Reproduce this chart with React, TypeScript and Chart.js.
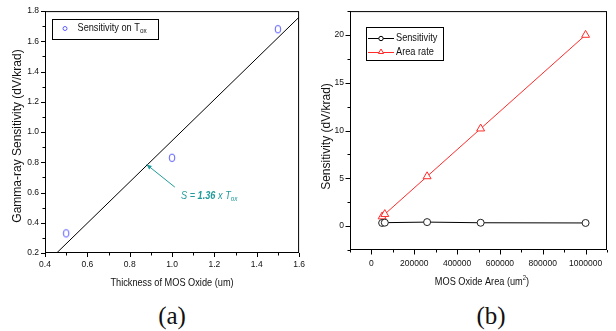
import React, { useEffect, useRef } from "react";
import { Chart, registerables } from "chart.js";

Chart.register(...registerables);

// ---------------- Data: chart (a) ----------------
const A_THICKNESS = [0.5, 1.0, 1.5];
const A_SENSITIVITY = [0.33, 0.83, 1.68];
const A_FIT_X = [0.455, 1.6];
const A_FIT_Y = [0.2, 1.76];
const A_X_MAJOR = [0.4, 0.6, 0.8, 1.0, 1.2, 1.4, 1.6];
const A_X_MINOR = [0.5, 0.7, 0.9, 1.1, 1.3, 1.5];
const A_Y_MAJOR = [0.2, 0.4, 0.6, 0.8, 1.0, 1.2, 1.4, 1.6, 1.8];
const A_Y_MINOR = [0.3, 0.5, 0.7, 0.9, 1.1, 1.3, 1.5, 1.7];

// ---------------- Data: chart (b) ----------------
const B_AREA = [50000, 62500, 260000, 510000, 1000000];
const B_SENSITIVITY = [0.33, 0.36, 0.42, 0.35, 0.33];
const B_AREA_RATE = [1.0, 1.25, 5.2, 10.2, 20.0];
const B_X_MAJOR = [0, 200000, 400000, 600000, 800000, 1000000];
const B_X_MINOR = [-100000, 100000, 300000, 500000, 700000, 900000, 1100000];
const B_Y_MAJOR = [0, 5, 10, 15, 20];
const B_Y_MINOR = [-2.5, 2.5, 7.5, 12.5, 17.5, 22.5];

const SANS = "'Liberation Sans', Arial, sans-serif";
const BLUE = "#5c5cff";
const RED = "#ff2b2b";
const TEAL = "#219a9a";
const COND = 0.8;

type Part = { t: string; font: string; dy?: number };

function drawRich(ctx: CanvasRenderingContext2D, parts: Part[], x: number, y: number, align: "left" | "center", k = COND) {
  let w = 0;
  for (const p of parts) {
    ctx.font = p.font;
    w += ctx.measureText(p.t).width;
  }
  const start = align === "center" ? x - (w * k) / 2 : x;
  ctx.save();
  ctx.translate(start, y);
  ctx.scale(k, 1);
  ctx.textAlign = "left";
  ctx.textBaseline = "middle";
  let cx = 0;
  for (const p of parts) {
    ctx.font = p.font;
    ctx.fillText(p.t, cx, p.dy || 0);
    cx += ctx.measureText(p.t).width;
  }
  ctx.restore();
}

function isIn(list: number[], v: number) {
  return list.some((m) => Math.abs(m - v) < 1e-9);
}

function drawFrameAndTicks(chart: any, xMajor: number[], yMajor: number[], majorLen: number, minorLen: number) {
  const ctx: CanvasRenderingContext2D = chart.ctx;
  const { left, right, top, bottom } = chart.chartArea;
  const xs = chart.scales.x;
  const ys = chart.scales.y;
  ctx.save();
  ctx.strokeStyle = "#000";
  ctx.lineWidth = 1;
  ctx.strokeRect(left + 0.5, top + 0.5, right - left - 1, bottom - top - 1);
  ctx.beginPath();
  for (const t of xs.ticks) {
    const px = Math.round(xs.getPixelForValue(t.value)) + 0.5;
    const len = isIn(xMajor, t.value) ? majorLen : minorLen;
    ctx.moveTo(px, bottom);
    ctx.lineTo(px, bottom + len);
  }
  for (const t of ys.ticks) {
    const py = Math.round(ys.getPixelForValue(t.value)) + 0.5;
    const len = isIn(yMajor, t.value) ? majorLen : minorLen;
    ctx.moveTo(left - len, py);
    ctx.lineTo(left + 1, py);
  }
  ctx.stroke();
  ctx.restore();
}

function rotatedTitle(ctx: CanvasRenderingContext2D, text: string, font: string, cx: number, cy: number) {
  ctx.save();
  ctx.translate(cx, cy);
  ctx.rotate(-Math.PI / 2);
  ctx.font = font;
  ctx.fillStyle = "#111";
  ctx.textAlign = "center";
  ctx.textBaseline = "middle";
  ctx.fillText(text, 0, 0);
  ctx.restore();
}

function makeEllipseMarker(color: string, rx: number, ry: number) {
  const c = document.createElement("canvas");
  c.width = Math.round(rx * 2 + 4);
  c.height = Math.round(ry * 2 + 4);
  const g = c.getContext("2d")!;
  g.strokeStyle = color;
  g.lineWidth = 1;
  g.beginPath();
  g.ellipse(c.width / 2, c.height / 2, rx, ry, 0, 0, Math.PI * 2);
  g.stroke();
  return c;
}

function tickScale(min: number, max: number, major: number[], minor: number[], fmt: (v: number) => string, padding: number, fit: (s: any) => void) {
  return {
    type: "linear" as const,
    min,
    max,
    afterBuildTicks: (s: any) => {
      s.ticks = [...major, ...minor].sort((a, b) => a - b).map((v) => ({ value: v }));
    },
    afterFit: fit,
    grid: { display: false, drawTicks: false },
    border: { display: false },
    title: { display: false },
    ticks: {
      autoSkip: false,
      maxRotation: 0,
      minRotation: 0,
      padding,
      color: "#111",
      font: { family: SANS, size: 8.5 },
      callback: (v: any) => (isIn(major, Number(v)) ? fmt(Number(v)) : ""),
    },
  };
}

function ChartA() {
  const ref = useRef<HTMLCanvasElement>(null);
  useEffect(() => {
    const marker = makeEllipseMarker(BLUE, 2.8, 3.8);
    const decor = {
      id: "decorA",
      afterDraw(chart: any) {
        const ctx: CanvasRenderingContext2D = chart.ctx;
        drawFrameAndTicks(chart, A_X_MAJOR, A_Y_MAJOR, 4, 2.5);
        const xs = chart.scales.x;
        const ys = chart.scales.y;
        ctx.save();
        // axis titles
        rotatedTitle(ctx, "Gamma-ray Sensitivity (dV/krad)", `12px ${SANS}`, 18, 136);
        ctx.fillStyle = "#111";
        drawRich(ctx, [{ t: "Thickness of MOS Oxide (um)", font: `11.5px ${SANS}` }], 172, 282.7, "center");
        // legend
        ctx.strokeStyle = "#000";
        ctx.lineWidth = 1;
        ctx.strokeRect(52.5, 19.5, 106, 20);
        ctx.strokeStyle = BLUE;
        ctx.beginPath();
        ctx.arc(65, 28.5, 2, 0, Math.PI * 2);
        ctx.stroke();
        ctx.fillStyle = "#111";
        drawRich(
          ctx,
          [
            { t: "Sensitivity on T", font: `11.5px ${SANS}` },
            { t: "ox", font: `8px ${SANS}`, dy: 3 },
          ],
          77.5,
          28,
          "left"
        );
        // annotation arrow
        const x0 = xs.getPixelForValue(1.013);
        const y0 = ys.getPixelForValue(0.636);
        const x1 = xs.getPixelForValue(0.88);
        const y1 = ys.getPixelForValue(0.785);
        ctx.strokeStyle = TEAL;
        ctx.fillStyle = TEAL;
        ctx.lineWidth = 1;
        ctx.beginPath();
        ctx.moveTo(x0, y0);
        ctx.lineTo(x1, y1);
        ctx.stroke();
        const ang = Math.atan2(y1 - y0, x1 - x0);
        const hl = 5;
        const hw = 2.2;
        ctx.beginPath();
        ctx.moveTo(x1, y1);
        ctx.lineTo(x1 - hl * Math.cos(ang) + hw * Math.sin(ang), y1 - hl * Math.sin(ang) - hw * Math.cos(ang));
        ctx.lineTo(x1 - hl * Math.cos(ang) - hw * Math.sin(ang), y1 - hl * Math.sin(ang) + hw * Math.cos(ang));
        ctx.closePath();
        ctx.fill();
        drawRich(
          ctx,
          [
            { t: "S = ", font: `italic 11.5px ${SANS}` },
            { t: "1.36", font: `italic bold 11.5px ${SANS}` },
            { t: " x T", font: `italic 11.5px ${SANS}` },
            { t: "ox", font: `italic 8px ${SANS}`, dy: 3 },
          ],
          xs.getPixelForValue(1.042),
          ys.getPixelForValue(0.577),
          "left"
        );
        ctx.restore();
      },
    };
    const chart = new Chart(ref.current!, {
      type: "scatter",
      data: {
        datasets: [
          {
            label: "Sensitivity on Tox",
            data: A_THICKNESS.map((x, i) => ({ x, y: A_SENSITIVITY[i] })),
            pointStyle: marker as any,
            pointRadius: 4,
            showLine: false,
          },
          {
            label: "Fit",
            data: A_FIT_X.map((x, i) => ({ x, y: A_FIT_Y[i] })),
            showLine: true,
            borderColor: "#000",
            borderWidth: 1,
            pointRadius: 0,
          },
        ],
      },
      options: {
        responsive: false,
        animation: false,
        devicePixelRatio: 1,
        events: [],
        layout: { padding: { left: 0, top: 7, right: 9, bottom: 0 } },
        plugins: { legend: { display: false }, tooltip: { enabled: false } },
        scales: {
          x: tickScale(0.4, 1.6, A_X_MAJOR, A_X_MINOR, (v) => v.toFixed(1), 7, (s: any) => {
            s.height = 47;
          }),
          y: tickScale(0.2, 1.8, A_Y_MAJOR, A_Y_MINOR, (v) => v.toFixed(1), 6, (s: any) => {
            s.width = 45;
          }),
        } as any,
      },
      plugins: [decor],
    });
    return () => chart.destroy();
  }, []);
  return <canvas ref={ref} width={312} height={300} style={{ position: "absolute", left: 0, top: 0, width: 312, height: 300 }} />;
}

function ChartB() {
  const ref = useRef<HTMLCanvasElement>(null);
  useEffect(() => {
    const decor = {
      id: "decorB",
      afterDraw(chart: any) {
        const ctx: CanvasRenderingContext2D = chart.ctx;
        drawFrameAndTicks(chart, B_X_MAJOR, B_Y_MAJOR, 4.5, 2.5);
        ctx.save();
        rotatedTitle(ctx, "Sensitivity (dV/krad)", `12px ${SANS}`, 14.7, 136.5);
        ctx.fillStyle = "#111";
        drawRich(
          ctx,
          [
            { t: "MOS Oxide Area (um", font: `11.5px ${SANS}` },
            { t: "2", font: `7.5px ${SANS}`, dy: -4 },
            { t: ")", font: `11.5px ${SANS}` },
          ],
          170,
          282.3,
          "center"
        );
        // legend
        ctx.strokeStyle = "#000";
        ctx.lineWidth = 1;
        ctx.strokeRect(54.5, 27.5, 77, 33);
        // row 1
        ctx.beginPath();
        ctx.moveTo(56, 38.5);
        ctx.lineTo(82, 38.5);
        ctx.stroke();
        ctx.fillStyle = "#fff";
        ctx.beginPath();
        ctx.arc(69, 38.5, 2.2, 0, Math.PI * 2);
        ctx.fill();
        ctx.stroke();
        // row 2
        ctx.strokeStyle = RED;
        ctx.beginPath();
        ctx.moveTo(56, 52.5);
        ctx.lineTo(82, 52.5);
        ctx.stroke();
        ctx.beginPath();
        const r = 3;
        for (let k = 0; k < 3; k++) {
          const a = (k * 2 * Math.PI) / 3;
          const px = 69 + Math.sin(a) * r;
          const py = 52 - Math.cos(a) * r;
          if (k === 0) ctx.moveTo(px, py);
          else ctx.lineTo(px, py);
        }
        ctx.closePath();
        ctx.fill();
        ctx.stroke();
        ctx.fillStyle = "#111";
        drawRich(ctx, [{ t: "Sensitivity", font: `11.5px ${SANS}` }], 84, 38, "left");
        drawRich(ctx, [{ t: "Area rate", font: `11.5px ${SANS}` }], 84, 52, "left");
        ctx.restore();
      },
    };
    const chart = new Chart(ref.current!, {
      type: "scatter",
      data: {
        datasets: [
          {
            label: "Sensitivity",
            data: B_AREA.map((x, i) => ({ x, y: B_SENSITIVITY[i] })),
            showLine: true,
            borderColor: "#000",
            borderWidth: 1,
            pointStyle: "circle",
            pointRadius: 3.5,
            pointBorderWidth: 1,
            pointBorderColor: "#222",
            pointBackgroundColor: "#fff",
          },
          {
            label: "Area rate",
            data: B_AREA.map((x, i) => ({ x, y: B_AREA_RATE[i] })),
            showLine: true,
            borderColor: RED,
            borderWidth: 1,
            pointStyle: "triangle",
            pointRadius: 4.6,
            pointBorderWidth: 1,
            pointBorderColor: RED,
            pointBackgroundColor: "#fff",
          },
        ],
      },
      options: {
        responsive: false,
        animation: false,
        devicePixelRatio: 1,
        events: [],
        layout: { padding: { left: 0, top: 5, right: 3, bottom: 0 } },
        plugins: { legend: { display: false }, tooltip: { enabled: false } },
        scales: {
          x: tickScale(-100000, 1100000, B_X_MAJOR, B_X_MINOR, (v) => String(v), 9, (s: any) => {
            s.height = 50;
          }),
          y: tickScale(-2.5, 22.5, B_Y_MAJOR, B_Y_MINOR, (v) => String(v), 6, (s: any) => {
            s.width = 38;
          }),
        } as any,
      },
      plugins: [decor],
    });
    return () => chart.destroy();
  }, []);
  return <canvas ref={ref} width={304} height={300} style={{ position: "absolute", left: 312, top: 0, width: 304, height: 300 }} />;
}

const capStyle: React.CSSProperties = {
  position: "absolute",
  top: 303,
  width: 60,
  height: 26,
  lineHeight: "26px",
  textAlign: "center",
  fontFamily: "'Liberation Serif', 'Times New Roman', serif",
  fontSize: 25,
  color: "#111",
};

export default function App() {
  return (
    <div style={{ position: "fixed", left: 0, top: 0, width: 616, height: 331, background: "#fff", overflow: "hidden" }}>
      <ChartA />
      <ChartB />
      <div style={{ ...capStyle, left: 142 }}>(a)</div>
      <div style={{ ...capStyle, left: 461 }}>(b)</div>
    </div>
  );
}
